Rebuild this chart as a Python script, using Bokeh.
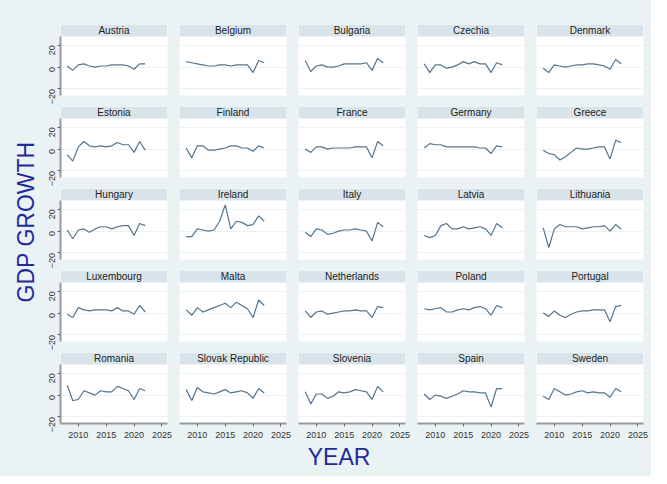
import math
from bokeh.plotting import figure
from bokeh.layouts import row, column
from bokeh.models import FixedTicker, Range1d, BoxAnnotation, Label
from bokeh.embed import file_html
from bokeh.resources import INLINE
from bokeh.core.properties import value

years = list(range(2008, 2023))
countries = ["Austria", "Belgium", "Bulgaria", "Czechia", "Denmark",
             "Estonia", "Finland", "France", "Germany", "Greece",
             "Hungary", "Ireland", "Italy", "Latvia", "Lithuania",
             "Luxembourg", "Malta", "Netherlands", "Poland", "Portugal",
             "Romania", "Slovak Republic", "Slovenia", "Spain", "Sweden"]
growth = {
    "Austria": [1, -3, 2, 3, 1, 0, 1, 1, 2, 2, 2, 1, -2, 3, 3],
    "Belgium": [5, 4, 3, 2, 1, 1, 2, 2, 1, 2, 2, 2, -5, 6, 4],
    "Bulgaria": [6, -4, 1, 2, 0, 0, 1, 3, 3, 3, 3, 4, -3, 8, 4],
    "Czechia": [3, -5, 2, 2, -1, 0, 2, 5, 3, 5, 3, 3, -5, 4, 2],
    "Denmark": [-1, -5, 2, 1, 0, 1, 2, 2, 3, 3, 2, 1, -2, 7, 3],
    "Estonia": [-5, -11, 2, 7, 3, 2, 3, 2, 3, 6, 4, 4, -3, 7, -1],
    "Finland": [1, -8, 3, 3, -1, -1, 0, 1, 3, 3, 1, 1, -2, 3, 1],
    "France": [0, -3, 2, 2, 0, 1, 1, 1, 1, 2, 2, 2, -8, 7, 3],
    "Germany": [1, 5, 4, 4, 2, 2, 2, 2, 2, 2, 1, 1, -4, 3, 2],
    "Greece": [-1, -4, -5, -10, -7, -3, 1, 0, 0, 1, 2, 2, -9, 8, 6],
    "Hungary": [1, -7, 1, 2, -1, 2, 4, 4, 2, 4, 5, 5, -4, 7, 5],
    "Ireland": [-5, -5, 2, 1, 0, 1, 9, 24, 2, 9, 8, 5, 6, 14, 9],
    "Italy": [-1, -5, 2, 1, -3, -2, 0, 1, 1, 2, 1, 0, -9, 8, 4],
    "Latvia": [-4, -6, -4, 5, 7, 2, 2, 4, 2, 3, 4, 2, -4, 7, 3],
    "Lithuania": [3, -15, 2, 6, 4, 4, 4, 2, 3, 4, 4, 5, 0, 6, 2],
    "Luxembourg": [-1, -4, 5, 3, 2, 3, 3, 3, 2, 5, 2, 2, -1, 7, 1],
    "Malta": [3, -2, 5, 1, 3, 5, 7, 9, 5, 10, 7, 4, -4, 12, 7],
    "Netherlands": [2, -4, 1, 2, -1, 0, 1, 2, 2, 3, 2, 2, -4, 6, 5],
    "Poland": [4, 3, 4, 5, 1, 1, 3, 4, 3, 5, 6, 4, -2, 7, 5],
    "Portugal": [0, -3, 2, -2, -4, -1, 1, 2, 2, 3, 3, 3, -8, 6, 7],
    "Romania": [9, -5, -4, 4, 2, 0, 4, 3, 3, 8, 6, 4, -4, 6, 4],
    "Slovak Republic": [5, -5, 7, 3, 2, 1, 3, 5, 2, 3, 4, 2, -3, 6, 2],
    "Slovenia": [3, -8, 1, 1, -3, -1, 3, 2, 3, 5, 4, 3, -4, 8, 3],
    "Spain": [1, -4, 0, -1, -3, -1, 1, 4, 3, 3, 2, 2, -11, 6, 6],
    "Sweden": [-1, -4, 6, 3, 0, 1, 3, 4, 2, 3, 2, 2, -2, 6, 3],
}
y_ticks = [-20, 0, 20]
x_ticks = [2010, 2015, 2020, 2025]

BG = "#EAF2F3"
HEAD = "#D8E4EA"
LINE = "#55758F"
TITLE_COL = "#1F2A9E"
FONT = "Liberation Sans"
Y0, Y1, YH = -26, 28, 39
X0, X1 = 2006.8, 2026
STY = {"background-color": BG}

rows = []
for r in range(5):
    figs = []
    for k in range(5):
        c = countries[r * 5 + k]
        left = k == 0
        bottom = r == 4
        p = figure(frame_width=107, frame_height=71, output_backend="svg",
                   toolbar_location=None, x_range=Range1d(X0, X1),
                   y_range=Range1d(Y0, YH),
                   min_border_left=0 if left else 6, min_border_right=6,
                   min_border_top=0, min_border_bottom=0 if bottom else 11,
                   background_fill_color="white", border_fill_color=BG,
                   outline_line_color=None, styles=STY)
        p.add_layout(BoxAnnotation(bottom=Y1, fill_color=HEAD, fill_alpha=1,
                                   line_color=None))
        p.add_layout(Label(x=(X0 + X1) / 2, y=(Y1 + YH) / 2, text=c,
                           text_align="center", text_baseline="middle",
                           text_font=FONT, text_font_size="10px",
                           text_color="#222222"))
        p.line(years, growth[c], line_color=LINE, line_width=1.2)
        p.xgrid.visible = False
        p.ygrid.ticker = FixedTicker(ticks=y_ticks)
        p.ygrid.grid_line_color = BG
        p.yaxis.ticker = FixedTicker(ticks=y_ticks)
        p.xaxis.ticker = FixedTicker(ticks=x_ticks)
        p.yaxis.bounds = (Y0, Y1)
        for ax in (p.xaxis, p.yaxis):
            ax.axis_line_color = "#999999"
            ax.axis_line_width = 2
            ax.major_tick_line_color = "#666666"
            ax.major_tick_out = 3
            ax.major_tick_in = 0
            ax.minor_tick_line_color = None
            ax.major_label_text_font = FONT
            ax.major_label_text_font_size = "9px"
            ax.major_label_text_color = "#333333"
        p.yaxis.major_label_orientation = math.pi / 2
        p.yaxis.visible = left
        p.xaxis.visible = bottom
        figs.append(p)
    rows.append(row(*figs, spacing=0, styles=STY))
grid = column(*rows, spacing=0, styles=STY)

lt = figure(width=43, height=420, output_backend="svg", toolbar_location=None,
            x_range=(0, 1), y_range=(0, 1), border_fill_color=BG,
            background_fill_color=BG, outline_line_color=None,
            min_border=0, styles=STY)
lt.axis.visible = False
lt.grid.visible = False
lt.text([0.6], [0.53], text=["GDP GROWTH"], angle=math.pi / 2,
        text_align="center", text_baseline="middle",
        text_font=value(FONT), text_font_size="23px", text_color=TITLE_COL)

bt = figure(width=651, height=32, output_backend="svg", toolbar_location=None,
            x_range=(0, 1), y_range=(0, 1), border_fill_color=BG,
            background_fill_color=BG, outline_line_color=None, min_border=0,
            styles=STY)
bt.axis.visible = False
bt.grid.visible = False
bt.text([0.52], [0.6], text=["YEAR"], text_align="center",
        text_baseline="middle", text_font=value(FONT),
        text_font_size="23px", text_color=TITLE_COL)

top = figure(width=651, height=24, output_backend="svg", toolbar_location=None,
             border_fill_color=BG, background_fill_color=BG,
             outline_line_color=None, min_border=0, styles=STY)
top.axis.visible = False
top.grid.visible = False

layout = column(top, row(lt, grid, spacing=0, styles=STY), bt,
                spacing=0, styles=STY)
html = file_html(layout, INLINE)
html = html.replace("<body>", '<body style="background:%s">' % BG, 1)
open("out.html", "w").write(html)
